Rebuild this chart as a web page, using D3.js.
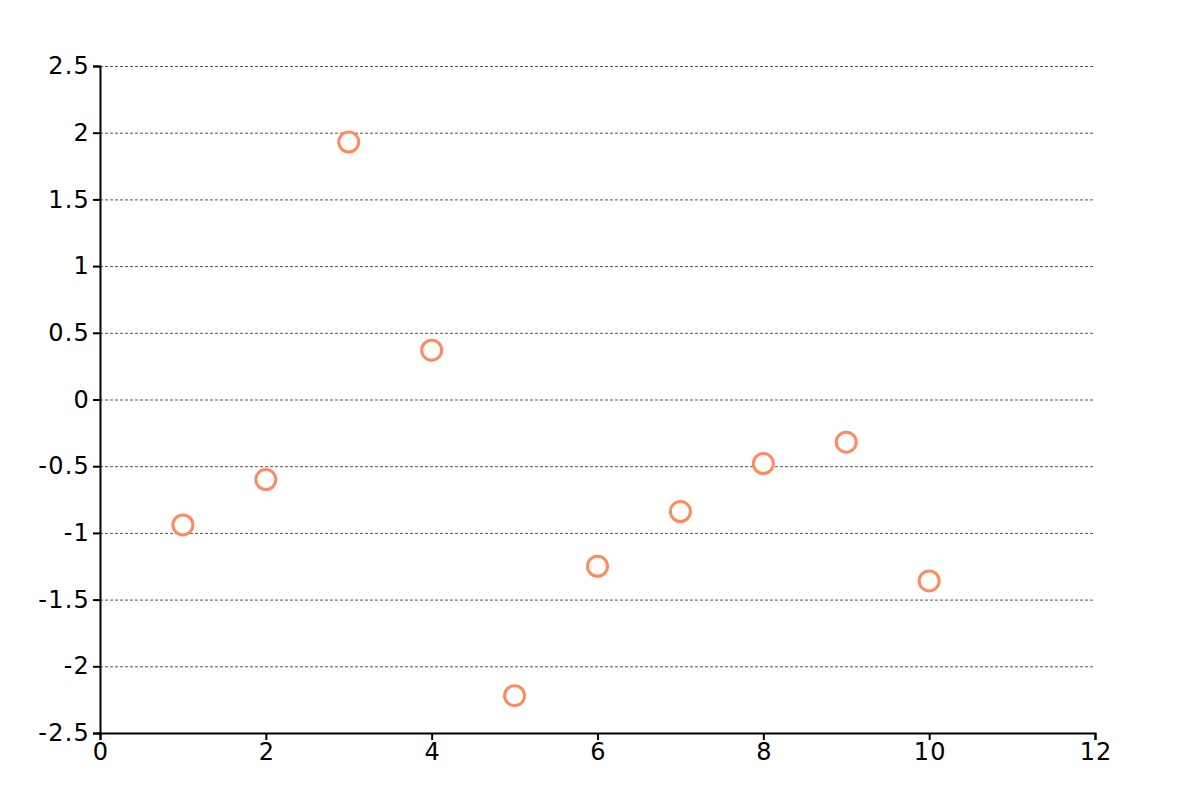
<!DOCTYPE html>
<html>
<head>
<meta charset="UTF-8">
<script src="https://d3js.org/d3.v7.min.js"></script>
<style>
    body { margin: 0; background: #fff; }
    .tick text { font-family: "DejaVu Sans", Verdana, sans-serif; font-size: 24px; letter-spacing: 1.2px; fill: #000; }
    .grid line { stroke: #555; stroke-dasharray: 3, 2; stroke-width: 1px; }
    .grid .domain { display: none; }
</style>
</head>
<body>
<svg id="chart"></svg>
<script>
    // values
    let xValues = [1, 2, 3, 4, 5, 6, 7, 8, 9, 10]
    let yValues = [-0.94, -0.6, 1.93, 0.37, -2.22, -1.25, -0.84, -0.48, -0.32, -1.36]
    let xTicks = [0, 2, 4, 6, 8, 10, 12]
    let yTicks = [-2.5, -2, -1.5, -1, -0.5, 0, 0.5, 1, 1.5, 2, 2.5]

    let width = 1200, height = 800
    let margin = { top: 66, right: 105, bottom: 67, left: 100 }

    let svg = d3.select("#chart")
        .attr("width", width)
        .attr("height", height)

    let x = d3.scaleLinear().domain([0, 12]).range([margin.left, width - margin.right])
    let y = d3.scaleLinear().domain([-2.5, 2.5]).range([height - margin.bottom, margin.top])

    // dashed horizontal grid
    svg.append("g")
        .attr("class", "grid")
        .attr("transform", `translate(${margin.left},0)`)
        .call(d3.axisRight(y).tickValues(yTicks).tickSize(x(12) - x(0)).tickFormat(""))

    let xAxis = svg.append("g")
        .attr("transform", `translate(0,${y(-2.5)})`)
        .call(d3.axisBottom(x).tickValues(xTicks).tickSize(7).tickFormat(d3.format("")))

    let yAxis = svg.append("g")
        .attr("transform", `translate(${x(0)},0)`)
        .call(d3.axisLeft(y).tickValues(yTicks).tickSize(7).tickFormat(d => d))

    xAxis.selectAll("path, line").attr("stroke", "#000").attr("stroke-width", 2)
    yAxis.selectAll("path, line").attr("stroke", "#000").attr("stroke-width", 2)
    xAxis.selectAll("text").attr("dy", "0.8em").attr("y", 8).attr("dx", "0.6")
    yAxis.selectAll("text").attr("x", -10)

    svg.append("g")
        .selectAll("circle")
        .data(xValues)
        .join("circle")
        .attr("cx", d => x(d))
        .attr("cy", (d, i) => y(yValues[i]))
        .attr("r", 10)
        .style("fill", "#fff")
        .style("stroke", "#ff8a5c")
        .style("stroke-width", 3)
</script>
</body>
</html>
